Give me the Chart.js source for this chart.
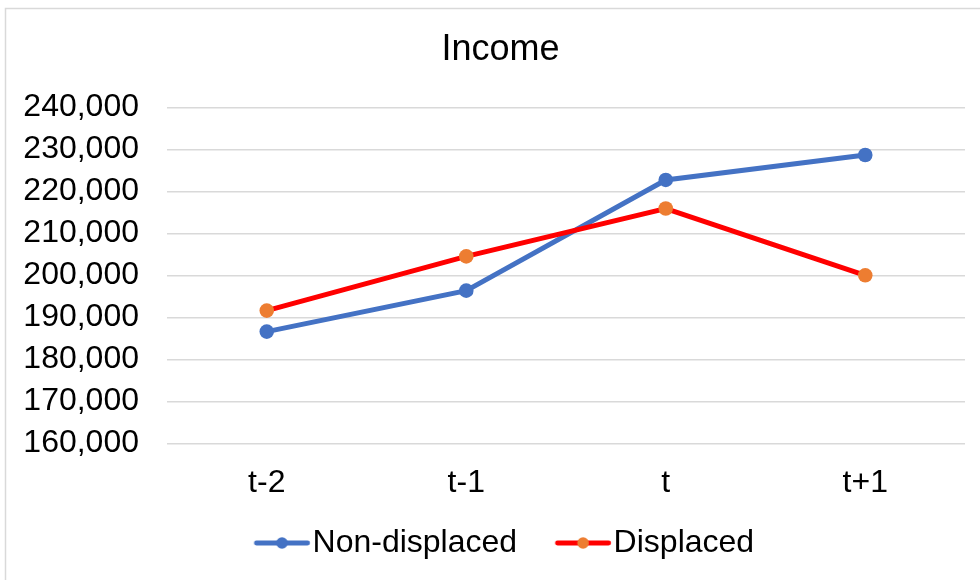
<!DOCTYPE html>
<html>
<head>
<meta charset="utf-8">
<title>Income</title>
<script src="https://cdn.jsdelivr.net/npm/chart.js@4.4.1/dist/chart.umd.min.js"></script>
<style>
  html, body { margin: 0; padding: 0; background: #ffffff; }
  #wrap { width: 980px; height: 580px; position: relative; }
</style>
</head>
<body>
<div id="wrap"><canvas id="chart" width="980" height="580"></canvas></div>
<script>
// Average income around the displacement year
const chartTitle = 'Income';
const periods = ['t-2', 't-1', 't', 't+1'];
const seriesNames = ['Non-displaced', 'Displaced'];
const nonDisplaced = [186600, 196350, 222700, 228650];
const displaced = [191600, 204500, 215900, 200000];
const yMin = 160000;
const yMax = 240000;
const yStep = 10000;

const FONT = "'Liberation Sans', Arial, Helvetica, sans-serif";
const BLUE = '#4472C4';
const RED = '#FF0000';
const ORANGE = '#ED7D31';

// Legend layout: swatch box width and spacing between entries
const LEGEND_FONT = 32;
const LEGEND_BOX = 49.7;
const LEGEND_PAD = 30.8;

// Legend swatch: a short line with a marker in the middle, drawn to a small canvas
function makeSwatch(lineColor, dotColor) {
  const half = LEGEND_FONT / 2;
  const lineEnd = LEGEND_BOX + half - 2.6;      // just before the label text
  const lineStart = lineEnd - 56;
  const centre = LEGEND_BOX / 2;                // where Chart.js centres the image
  const reach = Math.max(Math.abs(lineStart - centre), Math.abs(lineEnd - centre)) + 2;
  const w = Math.ceil(reach) * 2, h = 16;
  const c = document.createElement('canvas');
  c.width = w; c.height = h;
  const g = c.getContext('2d');
  const x0 = w / 2 + (lineStart - centre);
  const x1 = w / 2 + (lineEnd - centre);
  const lw = 4.8;
  g.strokeStyle = lineColor;
  g.lineWidth = lw;
  g.lineCap = 'round';
  g.beginPath();
  g.moveTo(x0 + lw / 2, h / 2);
  g.lineTo(x1 - lw / 2, h / 2);
  g.stroke();
  g.fillStyle = dotColor;
  g.beginPath();
  g.arc((x0 + x1) / 2, h / 2, 5.8, 0, Math.PI * 2);
  g.fill();
  return c;
}
const swatches = [makeSwatch(BLUE, BLUE), makeSwatch(RED, ORANGE)];

// Light grey frame around the chart
const framePlugin = {
  id: 'frame',
  beforeDraw(chart) {
    const ctx = chart.ctx;
    ctx.save();
    ctx.fillStyle = '#ffffff';
    ctx.fillRect(0, 0, chart.width, chart.height);
    ctx.strokeStyle = '#d9d9d9';
    ctx.lineWidth = 1.5;
    ctx.strokeRect(5.5, 8.5, chart.width + 20, chart.height + 20);
    ctx.restore();
  }
};

Chart.defaults.font.family = FONT;
Chart.defaults.color = '#000000';

new Chart(document.getElementById('chart'), {
  type: 'line',
  data: {
    labels: periods,
    datasets: [
      {
        label: seriesNames[0],
        data: nonDisplaced,
        borderColor: BLUE,
        backgroundColor: BLUE,
        pointBackgroundColor: BLUE,
        pointBorderColor: BLUE,
        borderWidth: 5,
        pointRadius: 7.3,
        pointHoverRadius: 7.3,
        pointBorderWidth: 0,
        tension: 0,
        fill: false,
        order: 1
      },
      {
        label: seriesNames[1],
        data: displaced,
        borderColor: RED,
        backgroundColor: ORANGE,
        pointBackgroundColor: ORANGE,
        pointBorderColor: ORANGE,
        borderWidth: 5,
        pointRadius: 7.3,
        pointHoverRadius: 7.3,
        pointBorderWidth: 0,
        tension: 0,
        fill: false,
        order: 0
      }
    ]
  },
  options: {
    responsive: false,
    animation: false,
    devicePixelRatio: 1,
    layout: { padding: { left: 21, right: 0, top: 0, bottom: 11 } },
    plugins: {
      tooltip: { enabled: false },
      title: {
        display: true,
        text: chartTitle,
        color: '#000000',
        font: { size: 36, weight: 'normal', family: FONT },
        padding: { top: 28.4, bottom: 35.7 }
      },
      legend: {
        display: true,
        position: 'bottom',
        align: 'center',
        maxHeight: 80,
        labels: {
          usePointStyle: true,
          pointStyleWidth: LEGEND_BOX,
          padding: LEGEND_PAD,
          color: '#000000',
          font: { size: LEGEND_FONT, family: FONT },
          sort: (a, b) => a.datasetIndex - b.datasetIndex,
          generateLabels(chart) {
            const items = Chart.defaults.plugins.legend.labels.generateLabels(chart);
            items.forEach(it => { it.pointStyle = swatches[it.datasetIndex]; });
            return items;
          }
        }
      }
    },
    scales: {
      x: {
        type: 'category',
        offset: true,
        grid: { display: false, drawTicks: false },
        border: { display: false },
        ticks: { padding: 20.5, color: '#000000', font: { size: 32, family: FONT }, maxRotation: 0 },
        afterFit(scale) { scale.height = 52.9; }
      },
      y: {
        position: 'left',
        min: yMin,
        max: yMax,
        grid: { color: '#d9d9d9', lineWidth: 1.4, drawTicks: false },
        border: { display: false },
        ticks: {
          stepSize: yStep,
          padding: 28,
          color: '#000000',
          font: { size: 32, family: FONT },
          callback: v => v.toLocaleString('en-US')
        },
        afterFit(scale) { scale.width = 146; }
      },
      // empty margin on the right of the plot area
      yMargin: {
        position: 'right',
        grid: { display: false, drawTicks: false },
        border: { display: false },
        ticks: { display: false },
        afterFit(scale) { scale.width = 15; }
      }
    }
  },
  plugins: [framePlugin]
});
</script>
</body>
</html>
